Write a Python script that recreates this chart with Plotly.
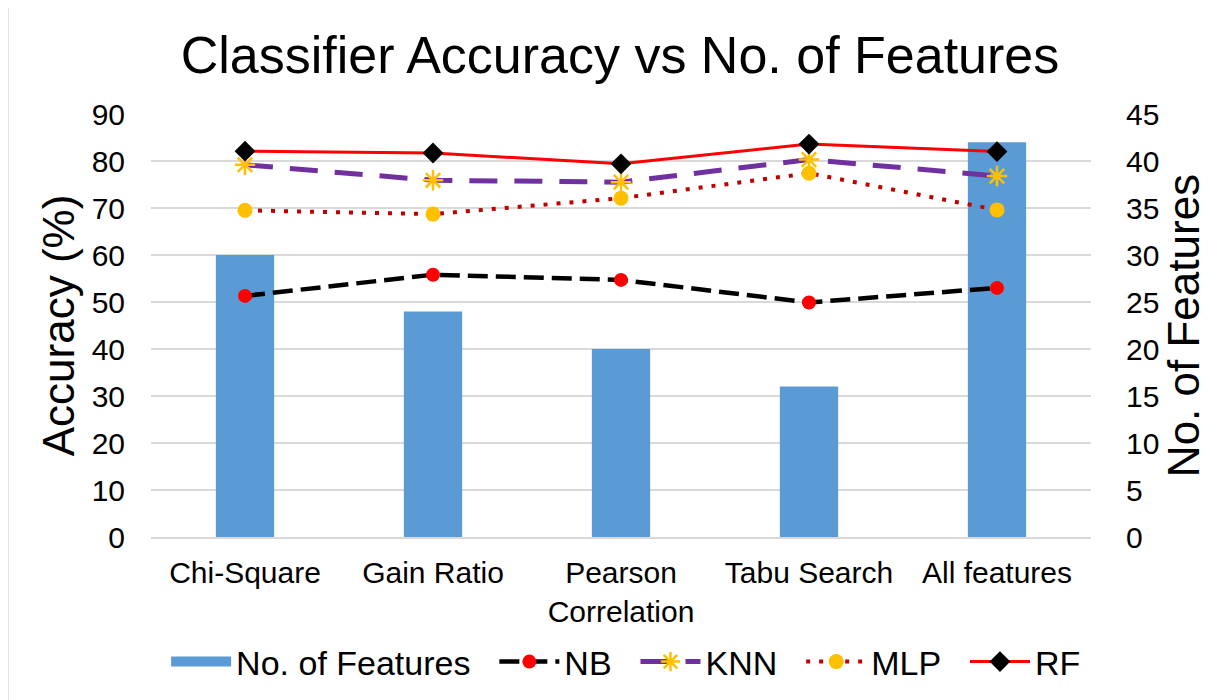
import plotly.graph_objects as go

categories = ["Chi-Square", "Gain Ratio", "Pearson<br>Correlation", "Tabu Search", "All features"]
num_features = [30, 24, 20, 16, 42]
nb = [51.3, 55.8, 54.7, 49.9, 53.0]
knn = [79.2, 75.9, 75.5, 80.3, 76.8]
mlp = [69.5, 68.7, 72.1, 77.4, 69.6]
rf = [82.1, 81.7, 79.4, 83.6, 82.0]
left_ticks = list(range(0, 91, 10))
right_ticks = list(range(0, 46, 5))

FONT = "Liberation Sans, Arial, sans-serif"
PAD = "\u00a0\u00a0"
BAR_COLOR = "#5B9BD5"

fig = go.Figure()
fig.add_trace(go.Bar(
    x=categories, y=num_features, name="No. of Features", showlegend=False,
    legendgroup="feat",
    marker=dict(color=BAR_COLOR, line=dict(width=0)), width=0.31, yaxis="y",
))
# legend entry for the bars (wide rectangular swatch)
fig.add_trace(go.Scatter(
    x=[None], y=[None], name="No. of Features" + PAD, mode="lines", legendgroup="feat",
    line=dict(color=BAR_COLOR, width=19), yaxis="y", hoverinfo="skip",
))
fig.add_trace(go.Scatter(
    x=categories, y=nb, name="NB" + PAD, mode="lines+markers", yaxis="y2",
    line=dict(color="#000000", width=4.5, dash="20px,8px"),
    marker=dict(symbol="circle", size=14, color="#FF0000"),
))
fig.add_trace(go.Scatter(
    x=categories, y=knn, name="KNN" + PAD, mode="lines+markers", yaxis="y2",
    line=dict(color="#7030A0", width=5, dash="28px,17px"),
    marker=dict(symbol="asterisk-open", size=17, color="#FFC000",
                line=dict(color="#FFC000", width=2.5)),
))
fig.add_trace(go.Scatter(
    x=categories, y=mlp, name="MLP" + PAD, mode="lines+markers", yaxis="y2",
    line=dict(color="#C00000", width=4, dash="4px,9px"),
    marker=dict(symbol="circle", size=15, color="#FFC000"),
))
fig.add_trace(go.Scatter(
    x=categories, y=rf, name="RF", mode="lines+markers", yaxis="y2",
    line=dict(color="#FF0000", width=3),
    marker=dict(symbol="diamond", size=16, color="#000000"),
))

W, H = 1224, 692
L, T = 143, 106
PW, PH = 940, 423
R = W - L - PW
B = H - T - PH

def px_x(x):
    return (x - L) / PW

def px_y(y):
    return (H - B - y) / PH

fig.update_layout(
    width=W, height=H,
    margin=dict(l=L, r=R, t=T, b=B, autoexpand=False),
    paper_bgcolor="white", plot_bgcolor="white",
    font=dict(family=FONT, color="#000000", size=30),
    title=dict(text="Classifier Accuracy vs No. of Features", x=0.5, xanchor="center",
               y=1 - 47 / H, yanchor="middle", font=dict(size=52, family=FONT)),
    showlegend=True,
    legend=dict(orientation="h", xref="container", yref="container",
                x=0.505, xanchor="center", y=1 - 654 / H, yanchor="middle",
                font=dict(size=34, family=FONT), traceorder="normal",
                itemwidth=60, bgcolor="rgba(0,0,0,0)"),
    xaxis=dict(
        type="category", range=[-0.5, 4.5], showgrid=False, showline=True,
        linecolor="#D9D9D9", linewidth=1.5, ticks="", ticklabelstandoff=8,
        tickfont=dict(size=30), zeroline=False,
    ),
    yaxis=dict(
        side="right", range=[0, 45], tickvals=right_ticks, showgrid=True,
        gridcolor="#D9D9D9", gridwidth=1.5, zeroline=False, ticks="",
        ticklabelstandoff=34, tickfont=dict(size=30),
        title=dict(text="No. of Features", font=dict(size=44), standoff=0),
    ),
    yaxis2=dict(
        side="left", overlaying="y", range=[0, 90], tickvals=left_ticks, showgrid=False,
        zeroline=False, ticks="", ticklabelstandoff=25, tickfont=dict(size=30),
        title=dict(text="Accuracy (%)", font=dict(size=44), standoff=3),
    ),
    shapes=[dict(type="rect", xref="paper", yref="paper",
                 x0=px_x(0), x1=px_x(1240), y0=px_y(720), y1=px_y(-1),
                 line=dict(color="#D9D9D9", width=1.5), fillcolor="rgba(0,0,0,0)",
                 layer="below")],
)

fig.write_html("out.html")
